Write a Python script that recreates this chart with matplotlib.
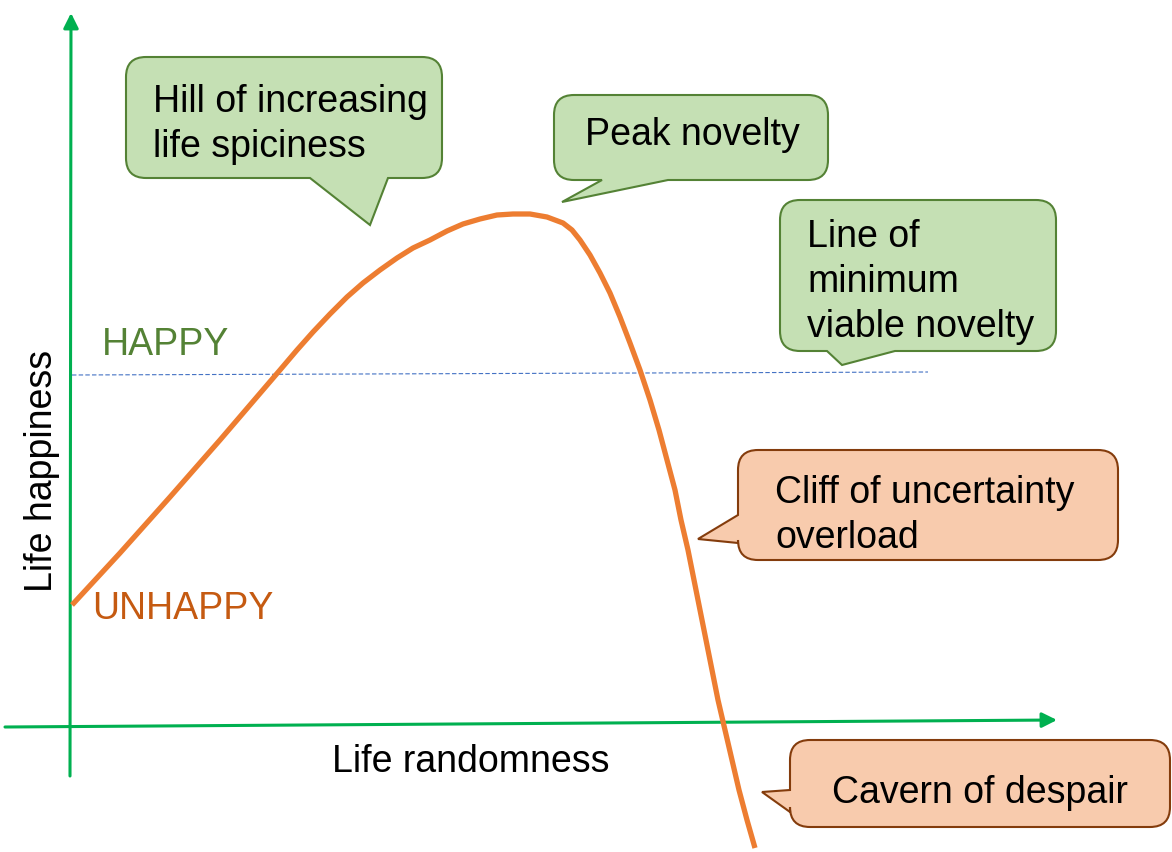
import matplotlib
matplotlib.use("Agg")
import matplotlib.pyplot as plt
from matplotlib.path import Path
from matplotlib.patches import PathPatch, FancyArrowPatch

plt.rcParams['font.family'] = ['Liberation Sans', 'DejaVu Sans']

# happiness curve (canvas units, y grows downward)
curve_x = [72, 120, 170, 220, 250, 280, 297, 313, 330, 347, 363, 380, 397,
           413, 430, 447, 463, 480, 497, 513, 530, 547, 563, 572, 580, 590,
           600, 610, 620, 630, 640, 650, 659, 667, 675, 681, 688, 694, 700,
           706, 712, 718, 725, 732, 739, 747, 755]
curve_y = [605, 553, 497, 440, 405, 370, 350, 332, 314, 297, 283, 270, 258,
           248, 240, 231, 224, 219, 215, 214, 214, 217, 223, 230, 240, 255,
           273, 293, 317, 343, 370, 400, 430, 460, 490, 520, 550, 580, 610,
           640, 670, 700, 730, 760, 790, 820, 848]

# line of minimum viable novelty
happy_x = [72, 928]
happy_y = [375, 372]

# callouts: text lines, box, tail side, tail base, tail tip, colour scheme
callout_texts = [
    ["Hill of increasing", "life spiciness"],
    ["Peak novelty"],
    ["Line of", "minimum", "viable novelty"],
    ["Cliff of uncertainty", "overload"],
    ["Cavern of despair"],
]
callout_boxes = [(126, 57, 442, 178), (554, 95, 828, 180), (780, 200, 1056, 351),
                 (738, 450, 1118, 560), (790, 740, 1170, 827)]
callout_tail_side = ["bottom", "bottom", "bottom", "left", "left"]
callout_tail_base = [(310, 388), (602, 668), (827, 895), (515, 543), (790, 812)]
callout_tail_tip = [(370, 225), (562, 202), (842, 365), (698, 539), (762, 792)]
callout_text_x = [153, 585, 807, 775, 832]
callout_text_y0 = [112, 145, 247, 503, 803]
callout_kind = ["good", "good", "good", "bad", "bad"]

fills = {"good": "#C5E0B4", "bad": "#F8CBAD"}
edges = {"good": "#548235", "bad": "#843C0C"}


def callout_path(box, side, base, tip, r=20):
    x0, y0, x1, y1 = box
    verts = [(x0 + r, y0), (x1 - r, y0), (x1, y0), (x1, y0 + r),
             (x1, y1 - r), (x1, y1), (x1 - r, y1)]
    codes = [Path.MOVETO, Path.LINETO, Path.CURVE3, Path.CURVE3,
             Path.LINETO, Path.CURVE3, Path.CURVE3]
    if side == "bottom":
        verts += [(base[1], y1), tip, (base[0], y1)]
        codes += [Path.LINETO] * 3
    verts += [(x0 + r, y1), (x0, y1), (x0, y1 - r)]
    codes += [Path.LINETO, Path.CURVE3, Path.CURVE3]
    if side == "left":
        verts += [(x0, base[1]), tip, (x0, base[0])]
        codes += [Path.LINETO] * 3
    verts += [(x0, y0 + r), (x0, y0), (x0 + r, y0), (x0 + r, y0)]
    codes += [Path.LINETO, Path.CURVE3, Path.CURVE3, Path.CLOSEPOLY]
    return Path(verts, codes)


fig = plt.figure(figsize=(11.72, 8.52), dpi=100)
ax = fig.add_axes([0, 0, 1, 1])
ax.set_xlim(0, 1172)
ax.set_ylim(852, 0)
ax.axis('off')

# axes with arrow heads
green = "#00B050"
arrow_style = "-|>,head_length=0.9,head_width=0.45"
ax.add_patch(FancyArrowPatch((70, 776), (71, 13), arrowstyle=arrow_style,
                             mutation_scale=10, color=green, lw=2.2,
                             shrinkA=0, shrinkB=0))
ax.add_patch(FancyArrowPatch((5, 727), (1057, 720), arrowstyle=arrow_style,
                             mutation_scale=10, color=green, lw=2.2,
                             shrinkA=0, shrinkB=0))

ax.plot(happy_x, happy_y, color="#4472C4", lw=0.8, dashes=(4, 2))
ax.plot(curve_x, curve_y, color="#ED7D31", lw=3.8, solid_capstyle='butt',
        solid_joinstyle='round')

for i, lines in enumerate(callout_texts):
    p = callout_path(callout_boxes[i], callout_tail_side[i],
                     callout_tail_base[i], callout_tail_tip[i])
    ax.add_patch(PathPatch(p, facecolor=fills[callout_kind[i]],
                           edgecolor=edges[callout_kind[i]], lw=1.5,
                           joinstyle='miter'))
    for j, line in enumerate(lines):
        ax.text(callout_text_x[i], callout_text_y0[i] + 45 * j, line,
                fontsize=27, color="black", ha='left', va='baseline')

ax.text(102, 355, "HAPPY", fontsize=27, color="#548235", ha='left', va='baseline')
ax.text(92, 619, "UNHAPPY", fontsize=27, color="#C55A11", ha='left', va='baseline')
ax.text(332, 772, "Life randomness", fontsize=27, color="black",
        ha='left', va='baseline')
ax.text(52, 471, "Life happiness", fontsize=27, color="black", rotation=90,
        rotation_mode='anchor', ha='center', va='baseline')

fig.savefig("out.png", dpi=100)
